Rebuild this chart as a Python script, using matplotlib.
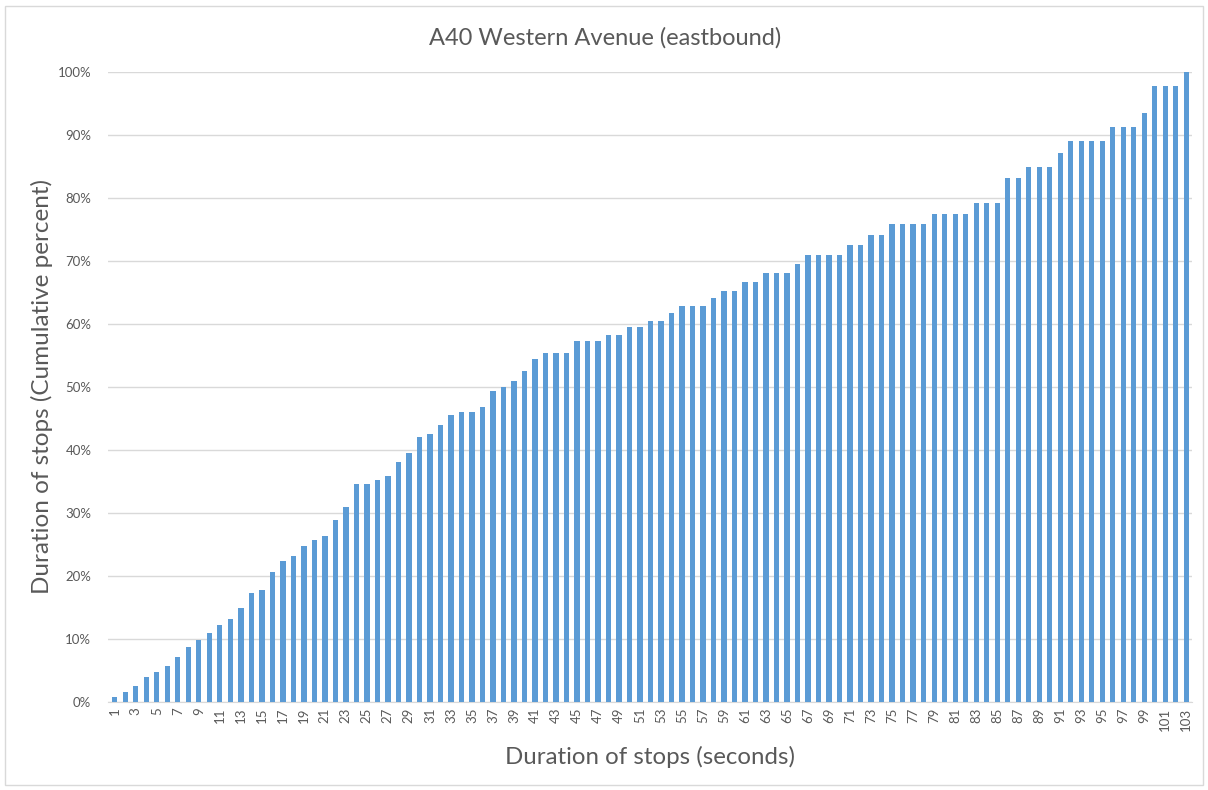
import matplotlib.pyplot as plt
import numpy as np

plt.rcParams['font.family'] = ['Lato', 'DejaVu Sans']

# длительность остановок, секунды
seconds = np.arange(1, 104)

# накопленный процент
cum_pct = [
    0.8, 1.6, 2.6, 3.9, 4.7, 5.7, 7.1, 8.7, 9.8, 11.0,
    12.3, 13.2, 14.9, 17.3, 17.8, 20.6, 22.4, 23.2, 24.7, 25.7,
    26.4, 28.9, 31.0, 34.6, 34.6, 35.2, 35.8, 38.1, 39.5, 42.0,
    42.6, 44.0, 45.5, 46.1, 46.1, 46.9, 49.3, 50.0, 50.9, 52.6,
    54.4, 55.4, 55.4, 55.4, 57.3, 57.3, 57.3, 58.3, 58.3, 59.5,
    59.5, 60.5, 60.5, 61.7, 62.8, 62.8, 62.8, 64.2, 65.3, 65.3,
    66.7, 66.7, 68.1, 68.1, 68.1, 69.5, 71.0, 71.0, 71.0, 71.0,
    72.6, 72.6, 74.2, 74.2, 75.8, 75.8, 75.8, 75.8, 77.5, 77.5,
    77.5, 77.5, 79.2, 79.2, 79.2, 83.2, 83.2, 84.9, 84.9, 84.9,
    87.2, 89.1, 89.1, 89.1, 89.1, 91.3, 91.3, 91.3, 93.5, 97.8,
    97.8, 97.8, 100.0,
]

yticks = np.arange(0, 101, 10)
ytick_labels = [f'{v}%' for v in yticks]

fig = plt.figure(figsize=(12.08, 7.90), dpi=100)
ax = fig.add_axes([108 / 1208, 1 - 702 / 790, (1192 - 108) / 1208, (702 - 72) / 790])

ax.bar(seconds, cum_pct, width=0.5, color='#5B9BD5', zorder=3)

ax.set_xlim(0.35, 103.55)
ax.set_ylim(0, 100)
ax.set_yticks(yticks)
ax.set_yticklabels(ytick_labels)
ax.set_xticks(seconds[::2])
ax.set_xticklabels([str(s) for s in seconds[::2]], rotation=90)
ax.tick_params(axis='both', length=0, labelsize=9.5, labelcolor='#595959')
ax.tick_params(axis='x', pad=4)
ax.tick_params(axis='y', pad=12)

ax.grid(axis='y', color='#D9D9D9', linewidth=1, zorder=0)
for s in ['top', 'right', 'left']:
    ax.spines[s].set_visible(False)
ax.spines['bottom'].set_color('#D9D9D9')

fig.text(605 / 1208, 1 - 38 / 790, 'A40 Western Avenue (eastbound)',
         ha='center', va='center', fontsize=17, color='#595959')
fig.text(650 / 1208, 1 - 757 / 790, 'Duration of stops (seconds)',
         ha='center', va='center', fontsize=17.3, color='#595959')
fig.text(42 / 1208, 1 - 387 / 790, 'Duration of stops (Cumulative percent)',
         ha='center', va='center', rotation=90, fontsize=17.5, color='#595959')

# рамка вокруг диаграммы
fig.patches.append(plt.Rectangle((5 / 1208, 5 / 790), 1198 / 1208, 779 / 790,
                                 transform=fig.transFigure, fill=False,
                                 edgecolor='#D9D9D9', linewidth=1))

fig.savefig('out.png', dpi=100)
